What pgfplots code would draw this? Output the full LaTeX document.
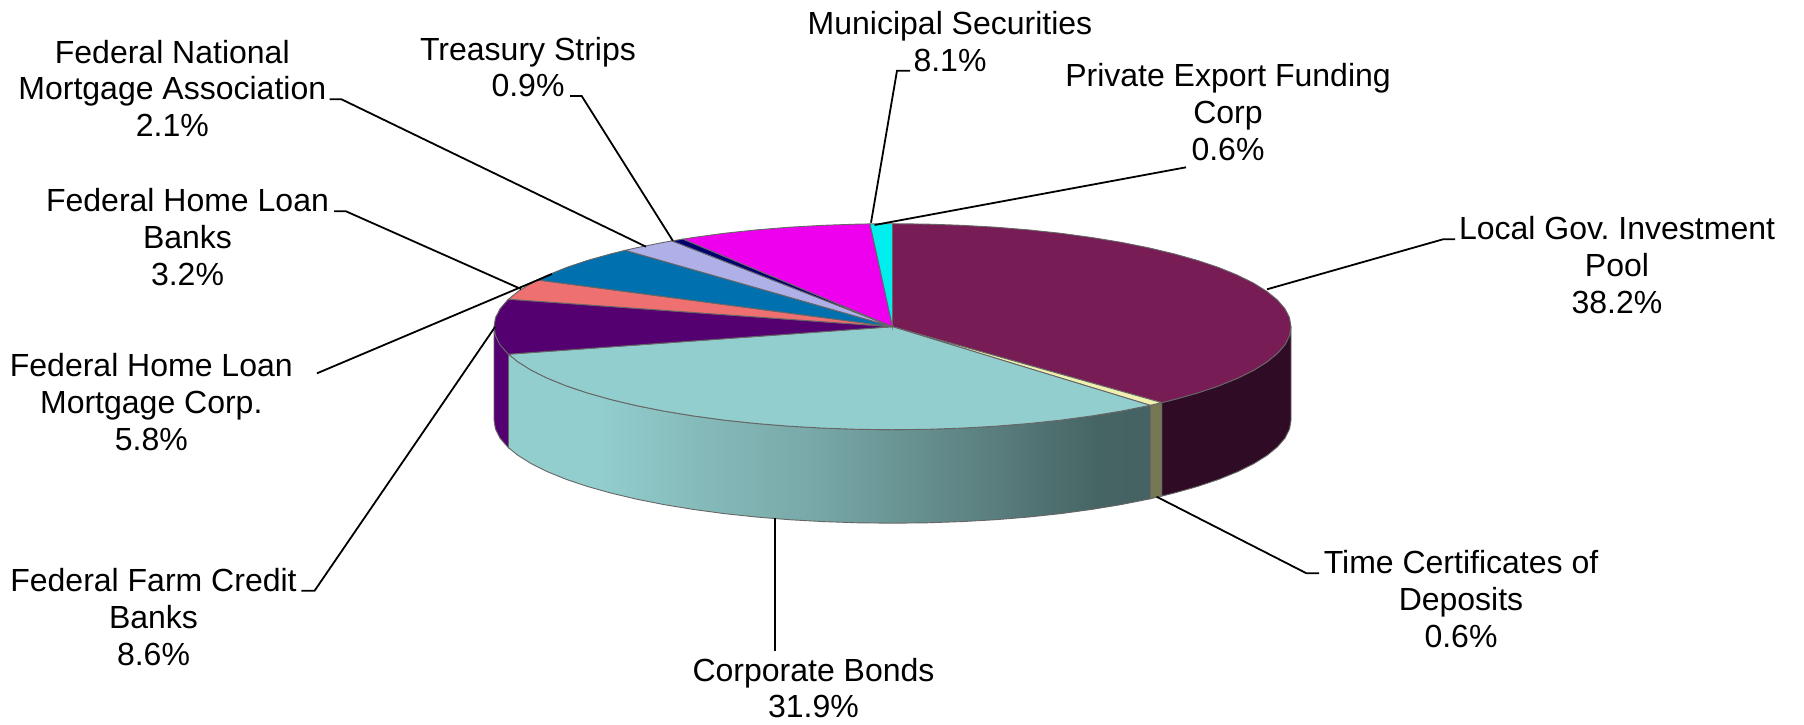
\documentclass[border=0pt]{standalone}
\usepackage{pgfplots}
\pgfplotsset{compat=1.18}
\usepackage{fontspec}
\setmainfont{Liberation Sans}
\frenchspacing

\definecolor{cMaroon}{RGB}{120,28,85}
\definecolor{cMaroonS}{RGB}{47,11,37}
\definecolor{cCream}{RGB}{240,240,176}
\definecolor{cTan}{RGB}{118,120,84}
\definecolor{cTeal}{RGB}{147,206,206}
\definecolor{cPurple}{RGB}{85,0,112}
\definecolor{cSalmon}{RGB}{238,112,112}
\definecolor{cBlue}{RGB}{0,112,174}
\definecolor{cLav}{RGB}{176,176,232}
\definecolor{cNavy}{RGB}{0,0,112}
\definecolor{cMag}{RGB}{238,0,238}
\definecolor{cCyan}{RGB}{0,238,238}

% stops run 25bp..75bp across the bounding box of the side face
\pgfdeclarehorizontalshading{tealside}{100bp}{
  rgb(0bp)=(0.573,0.808,0.808);
  rgb(32bp)=(0.573,0.808,0.808);
  rgb(40bp)=(0.522,0.729,0.729);
  rgb(48bp)=(0.478,0.667,0.667);
  rgb(55.5bp)=(0.412,0.580,0.580);
  rgb(63bp)=(0.353,0.490,0.490);
  rgb(71bp)=(0.275,0.392,0.392);
  rgb(100bp)=(0.255,0.365,0.365)}

\tikzset{
  edge/.style={draw=black!60, line width=0.45pt},
  leader/.style={draw=black, line width=0.9pt},
  lbl/.style={font=\fontsize{16}{18.3}\selectfont, align=center, inner sep=0pt, text=black},
}

\begin{document}
\begin{tikzpicture}
\begin{axis}[
  scale only axis,
  width=902pt, height=362pt,
  xmin=0, xmax=1804, ymin=0, ymax=724,
  y dir=reverse,
  hide axis,
  clip=false,
  no markers,
]
% hidden axis adds nothing to the bounding box, so span it here
\addplot[draw=none] coordinates {(0,0)(1804,0)(1804,724)(0,724)};
% side faces
\addplot[edge, fill=cMaroonS] coordinates {(1291,326.7)(1289.5,335.7)(1285,344.6)(1277.4,353.4)(1267,361.9)(1253.7,370.2)(1237.6,378.2)(1218.9,385.8)(1197.8,392.9)(1174.3,399.5)(1161.7,402.6)(1161.7,496.1)(1174.3,493)(1197.8,486.4)(1218.9,479.3)(1237.6,471.7)(1253.7,463.7)(1267,455.4)(1277.4,446.9)(1285,438.1)(1289.5,429.2)(1291,420.2)} --cycle;
\addplot[edge, fill=cTan] coordinates {(1161.7,402.6)(1150.2,405.3)(1150.2,498.8)(1161.7,496.1)} --cycle;
\addplot[edge, shade, shading=tealside] coordinates {(1150.2,405.3)(1148.7,405.6)(1121.1,411.1)(1091.8,415.9)(1060.9,420.1)(1028.8,423.5)(995.6,426.2)(961.7,428.1)(927.2,429.3)(892.5,429.7)(857.8,429.3)(823.3,428.1)(789.4,426.2)(756.2,423.5)(724.1,420.1)(693.2,415.9)(663.9,411.1)(636.3,405.6)(610.7,399.5)(587.2,392.9)(566.1,385.8)(547.4,378.2)(531.3,370.2)(518,361.9)(508.5,354.2)(508.5,447.7)(518,455.4)(531.3,463.7)(547.4,471.7)(566.1,479.3)(587.2,486.4)(610.7,493)(636.3,499.1)(663.9,504.6)(693.2,509.4)(724.1,513.6)(756.2,517)(789.4,519.7)(823.3,521.6)(857.8,522.8)(892.5,523.2)(927.2,522.8)(961.7,521.6)(995.6,519.7)(1028.8,517)(1060.9,513.6)(1091.8,509.4)(1121.1,504.6)(1148.7,499.1)(1150.2,498.8)} --cycle;
\addplot[edge, fill=cPurple] coordinates {(508.5,354.2)(507.6,353.4)(500,344.6)(495.5,335.7)(494,326.7)(494,420.2)(495.5,429.2)(500,438.1)(507.6,446.9)(508.5,447.7)} --cycle;
% top slices
\addplot[edge, fill=cMaroon] coordinates {(892.5,326.7)(892.5,223.7)(927.2,224.1)(961.7,225.3)(995.6,227.2)(1028.8,229.9)(1060.9,233.3)(1091.8,237.5)(1121.1,242.3)(1148.7,247.8)(1174.3,253.9)(1197.8,260.5)(1218.9,267.6)(1237.6,275.2)(1253.7,283.2)(1267,291.5)(1277.4,300)(1285,308.8)(1289.5,317.7)(1291,326.7)(1289.5,335.7)(1285,344.6)(1277.4,353.4)(1267,361.9)(1253.7,370.2)(1237.6,378.2)(1218.9,385.8)(1197.8,392.9)(1174.3,399.5)(1161.7,402.6)} --cycle;
\addplot[edge, fill=cCream] coordinates {(892.5,326.7)(1161.7,402.6)(1150.2,405.3)} --cycle;
\addplot[edge, fill=cTeal] coordinates {(892.5,326.7)(1150.2,405.3)(1148.7,405.6)(1121.1,411.1)(1091.8,415.9)(1060.9,420.1)(1028.8,423.5)(995.6,426.2)(961.7,428.1)(927.2,429.3)(892.5,429.7)(857.8,429.3)(823.3,428.1)(789.4,426.2)(756.2,423.5)(724.1,420.1)(693.2,415.9)(663.9,411.1)(636.3,405.6)(610.7,399.5)(587.2,392.9)(566.1,385.8)(547.4,378.2)(531.3,370.2)(518,361.9)(508.5,354.2)} --cycle;
\addplot[edge, fill=cPurple] coordinates {(892.5,326.7)(508.5,354.2)(507.6,353.4)(500,344.6)(495.5,335.7)(494,326.7)(495.5,317.7)(500,308.8)(507.6,300)(508.5,299.2)} --cycle;
\addplot[edge, fill=cSalmon] coordinates {(892.5,326.7)(508.5,299.2)(518,291.5)(531.3,283.2)(537.4,279.9)} --cycle;
\addplot[edge, fill=cBlue] coordinates {(892.5,326.7)(537.4,279.9)(547.4,275.2)(566.1,267.6)(587.2,260.5)(610.7,253.9)(625.3,250.3)} --cycle;
\addplot[edge, fill=cLav] coordinates {(892.5,326.7)(625.3,250.3)(636.3,247.8)(663.9,242.3)(672,240.9)} --cycle;
\addplot[edge, fill=cNavy] coordinates {(892.5,326.7)(672,240.9)(683,239.1)} --cycle;
\addplot[edge, fill=cMag] coordinates {(892.5,326.7)(683,239.1)(693.2,237.5)(724.1,233.3)(756.2,229.9)(789.4,227.2)(823.3,225.3)(857.8,224.1)(870,223.9)} --cycle;
\addplot[edge, fill=cCyan] coordinates {(892.5,326.7)(870,223.9)(892.5,223.7)} --cycle;
% leader lines
\addplot[leader] coordinates {(329.5,99.3)(341.5,99.3)(646,246.7)};
\addplot[leader] coordinates {(570,96)(581.7,96)(672.8,240.7)};
\addplot[leader] coordinates {(334,211.3)(346,211.3)(521,289)};
\addplot[leader] coordinates {(317,373.3)(552,274)};
\addplot[leader] coordinates {(301.4,590.7)(314.6,590.7)(495,327)};
\addplot[leader] coordinates {(775,518)(775,650.7)};
\addplot[leader] coordinates {(1156.6,496.7)(1306.5,573.3)(1319,573.3)};
\addplot[leader] coordinates {(1267,289.3)(1443,239.3)(1455,239.3)};
\addplot[leader] coordinates {(874.6,225)(1186,167.3)};
\addplot[leader] coordinates {(871,222.7)(897,70.7)(910,70.7)};
% labels
\node[lbl] at (axis cs:172.3,88.3) {Federal National\\Mortgage Association\\2.1\%};
\node[lbl] at (axis cs:528,67) {Treasury Strips\\0.9\%};
\node[lbl] at (axis cs:187.5,237) {Federal Home Loan\\Banks\\3.2\%};
\node[lbl] at (axis cs:950,41.8) {Municipal Securities\\8.1\%};
\node[lbl] at (axis cs:1228,112) {Private Export Funding\\Corp\\0.6\%};
\node[lbl] at (axis cs:1617,265) {Local Gov. Investment\\Pool\\38.2\%};
\node[lbl] at (axis cs:151.3,402) {Federal Home Loan\\Mortgage Corp.\\5.8\%};
\node[lbl] at (axis cs:153.5,617) {Federal Farm Credit\\Banks\\8.6\%};
\node[lbl] at (axis cs:813.5,688) {Corporate Bonds\\31.9\%};
\node[lbl] at (axis cs:1461,599) {Time Certificates of\\Deposits\\0.6\%};
\end{axis}
\end{tikzpicture}
\end{document}
